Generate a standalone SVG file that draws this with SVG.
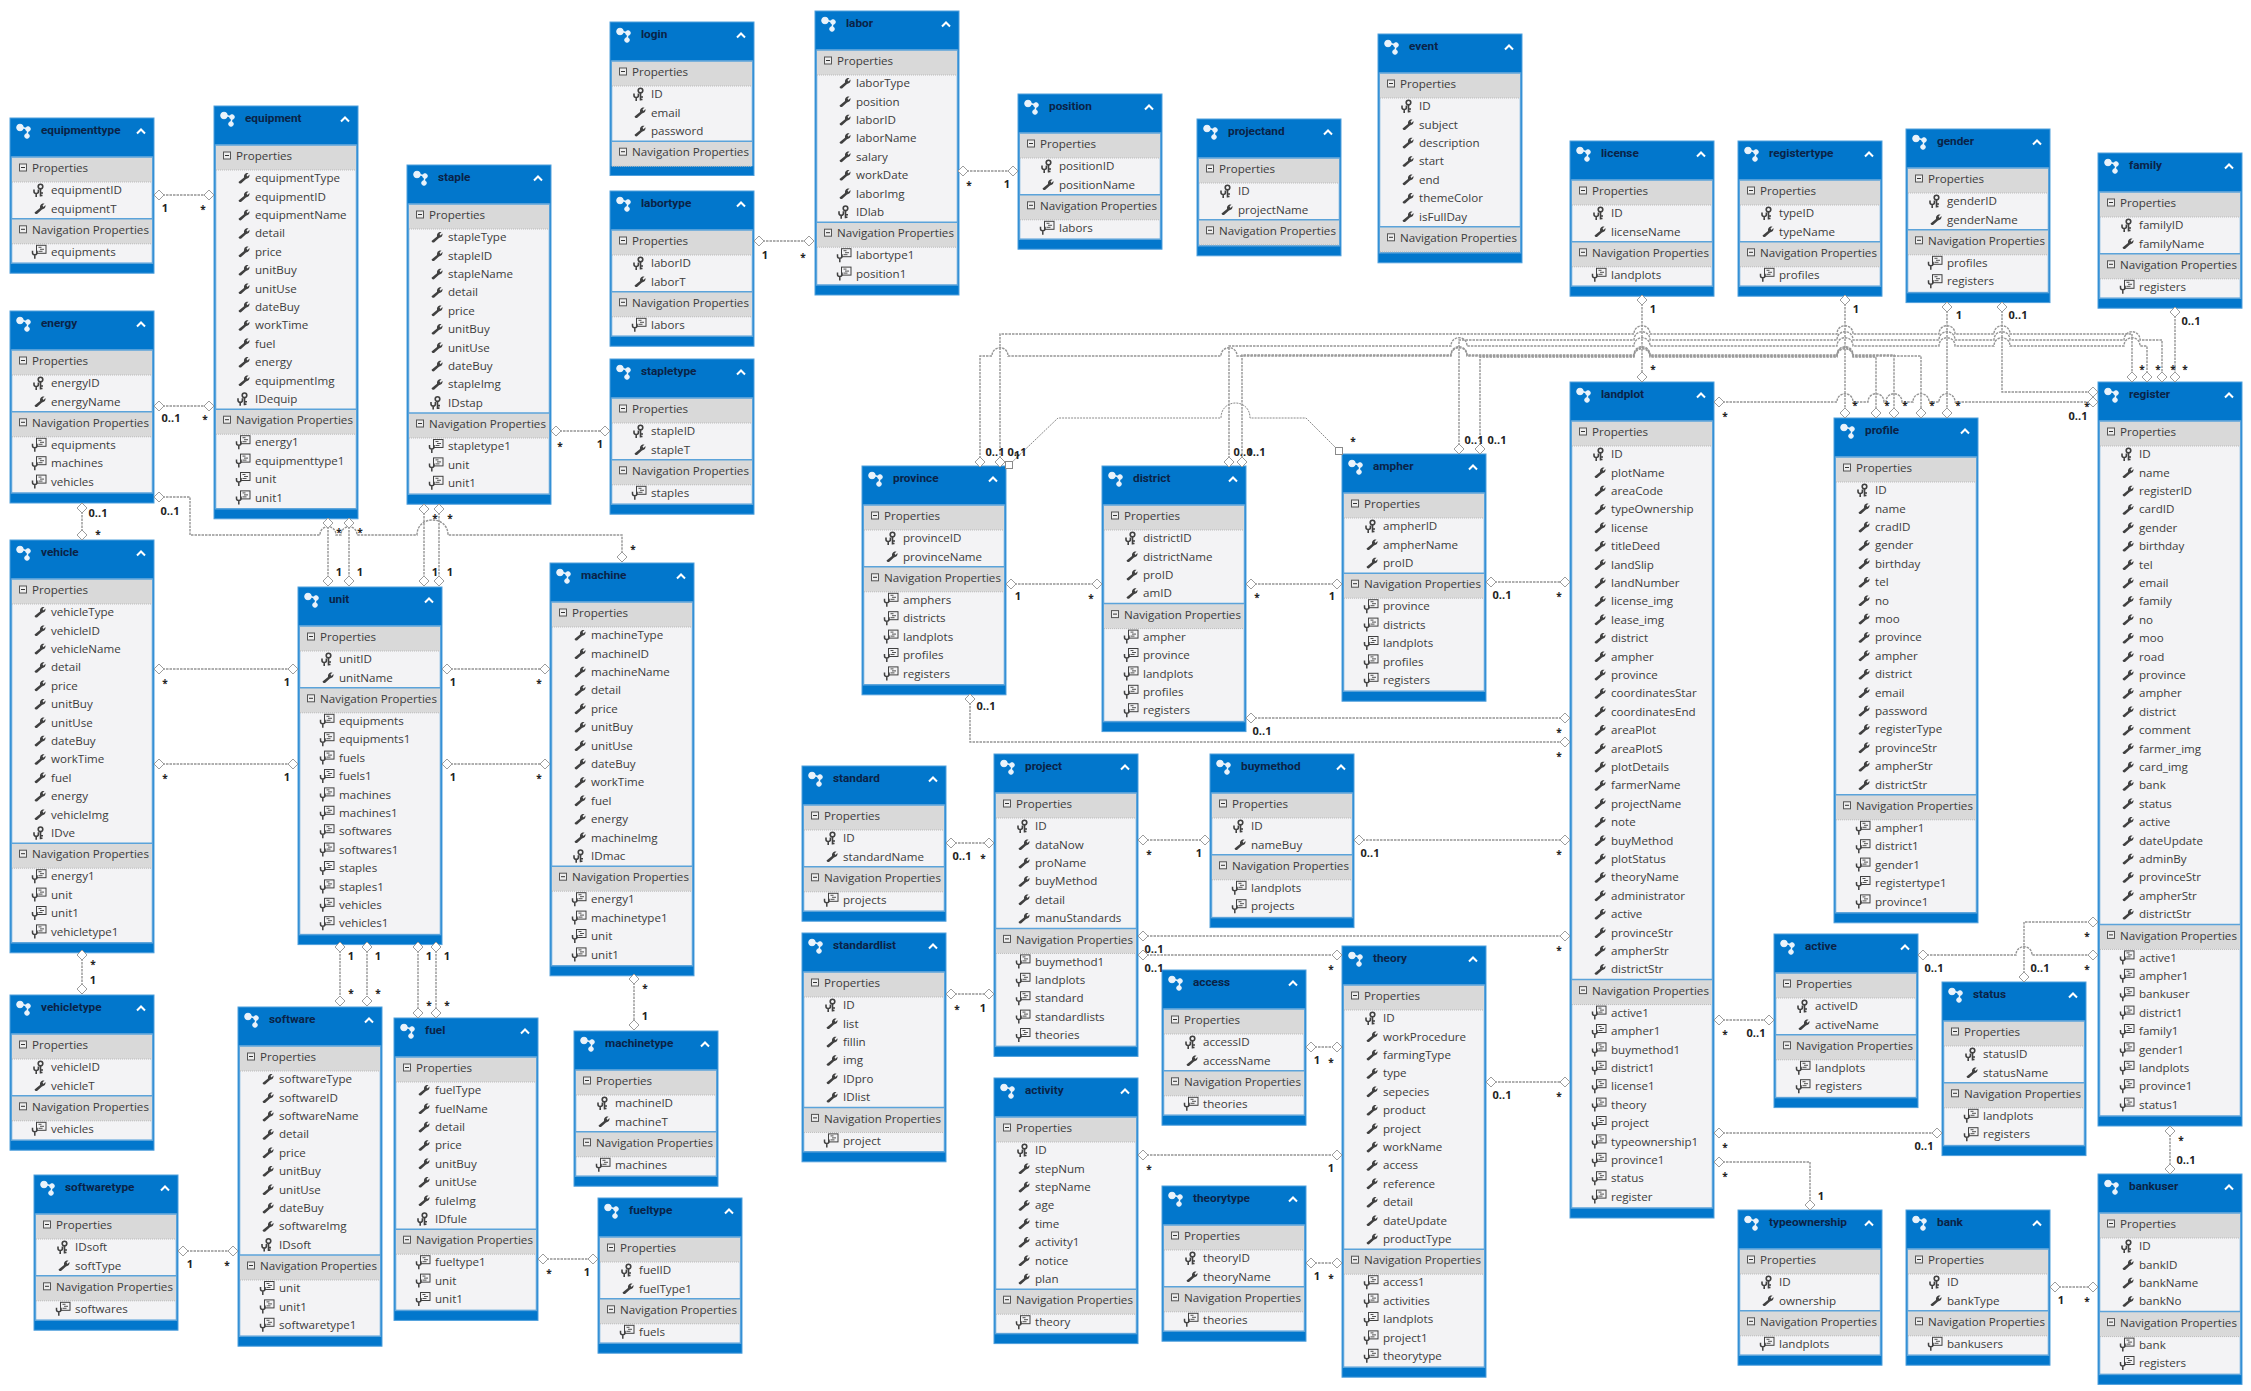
<svg xmlns="http://www.w3.org/2000/svg" width="2251" height="1391" viewBox="0 0 2251 1391">
<style>
text{font-family:"Open Sans","Noto Sans","Liberation Sans",sans-serif;font-size:11.6px;fill:#3c3c3c}
#nodes text{transform:translateY(-.8px)}
#nodes .t{transform:none;font-family:Roboto,"Open Sans",sans-serif;font-weight:700;fill:#0a2347;font-size:11.8px}
.a{font-weight:700;fill:#222;font-size:11px;text-anchor:middle}
.x{font-weight:700;fill:#222;font-size:10px;text-anchor:middle}
.o{fill:#0277cc;stroke:#4f9fdc;stroke-width:1}
.b{fill:#f3f3f5;stroke:#5ba3da;stroke-width:1.5}
.c{fill:none;stroke:#959595;stroke-width:1.4;stroke-dasharray:2.5 1;marker-start:url(#d);marker-end:url(#d)}
.s{fill:none;stroke:#8a8a8a;stroke-width:1;stroke-dasharray:2 1;marker-start:url(#q);marker-end:url(#q)}
</style>
<defs>
<marker id="d" markerUnits="userSpaceOnUse" markerWidth="12" markerHeight="12" refX="6" refY="6" orient="0"><path d="M6 1L11 6L6 11L1 6Z" fill="#fff" stroke="#9c9c9c"/></marker>
<marker id="q" markerUnits="userSpaceOnUse" markerWidth="12" markerHeight="12" refX="6" refY="6" orient="0"><rect x="2.500" y="2.500" width="7" height="7" fill="#fff" stroke="#8a8a8a"/></marker>
<g id="w"><path d="M24.5-1L30-5.5Q29.5-9 32.5-10L34.5-10L32.5-8L33.5-6.5L35.5-8.5Q36-5 32-4L27 .5Q25 1 24.5-1Z" fill="#404040"/></g>
<g id="k" fill="none" stroke="#404040" stroke-width="1.6"><circle cx="30.5" cy="-8.5" r="2.3"/><path d="M30.5-6.2V1.5M30.5-2h2.5M30.5 .5h2M24-5.5v2q0 2 2.2 2v3.500M28.400-5.500v2q0 2-2.200 2"/></g>
<g id="v" fill="none" stroke="#404040"><rect x="26.500" y="-11.500" width="9.500" height="8" fill="#f3f3f5"/><path d="M28.500-9.500h3M30-7.500h4M28.500-5.500h4" stroke-width=".9"/><path d="M22.500-6v2q0 2 2.300 2v4M27-6v2q0 2-2.200 2" stroke-width="1.500"/></g>
<g id="s"><rect x="2" y="39" width="140" height="25" fill="#d9d9d9"/><path d="M2 39H142" stroke="#5ba3da" stroke-width="1.500"/><path d="M2 64H142" stroke="#bbb" stroke-dasharray="1 1"/><rect x="9.500" y="46" width="7" height="7" fill="#eee" stroke="#555"/><path d="M11 49.500h4" stroke="#333"/></g>
<g id="h"><g fill="#eaf3fb" stroke="#eaf3fb"><path d="M10 9L18 11M18 11L17 18" stroke-width="1.500"/><circle cx="10" cy="9.500" r="3.300"/><circle cx="18" cy="11" r="2.300"/><circle cx="17" cy="18" r="2.300"/></g><path d="M127 15.500L131 11.500L135 15.500" fill="none" stroke="#fff" stroke-width="2"/><use href="#s"/></g>
</defs>
<g id="nodes">
<g id="equipmenttype" transform="translate(10,118)"><rect class="o" width="144" height="155.200"/><rect class="b" x="1.500" y="39" width="141" height="106.200"/><use href="#h"/><text class="t" x="31" y="16">equipmenttype</text><text x="22" y="55">Properties</text><use href="#k" y="77"/><text x="41" y="77">equipmentID</text><use href="#w" y="95.400"/><text x="41" y="95.400">equipmentT</text><g transform="translate(0,61.800)"><use href="#s"/><text x="22" y="55">Navigation Properties</text><use href="#v" y="77"/><text x="41" y="77">equipments</text></g></g>
<g id="equipment" transform="translate(214,106)"><rect class="o" width="144" height="412.800"/><rect class="b" x="1.500" y="39" width="141" height="363.800"/><use href="#h"/><text class="t" x="31" y="16">equipment</text><text x="22" y="55">Properties</text>
<use href="#w" y="77"/><text x="41" y="77">equipmentType</text><use href="#w" y="95.400"/><text x="41" y="95.400">equipmentID</text><use href="#w" y="113.800"/><text x="41" y="113.800">equipmentName</text><use href="#w" y="132.200"/><text x="41" y="132.200">detail</text><use href="#w" y="150.600"/><text x="41" y="150.600">price</text><use href="#w" y="169"/><text x="41" y="169">unitBuy</text><use href="#w" y="187.400"/><text x="41" y="187.400">unitUse</text><use href="#w" y="205.800"/><text x="41" y="205.800">dateBuy</text><use href="#w" y="224.200"/><text x="41" y="224.200">workTime</text><use href="#w" y="242.600"/><text x="41" y="242.600">fuel</text><use href="#w" y="261"/><text x="41" y="261">energy</text><use href="#w" y="279.400"/><text x="41" y="279.400">equipmentImg</text><use href="#k" y="297.800"/><text x="41" y="297.800">IDequip</text>
<g transform="translate(0,264.200)"><use href="#s"/><text x="22" y="55">Navigation Properties</text><use href="#v" y="77"/><text x="41" y="77">energy1</text><use href="#v" y="95.400"/><text x="41" y="95.400">equipmenttype1</text><use href="#v" y="113.800"/><text x="41" y="113.800">unit</text><use href="#v" y="132.200"/><text x="41" y="132.200">unit1</text></g></g>
<g id="energy" transform="translate(10,311)"><rect class="o" width="144" height="192"/><rect class="b" x="1.500" y="39" width="141" height="143"/><use href="#h"/><text class="t" x="31" y="16">energy</text><text x="22" y="55">Properties</text><use href="#k" y="77"/><text x="41" y="77">energyID</text><use href="#w" y="95.400"/><text x="41" y="95.400">energyName</text><g transform="translate(0,61.800)"><use href="#s"/><text x="22" y="55">Navigation Properties</text><use href="#v" y="77"/><text x="41" y="77">equipments</text><use href="#v" y="95.400"/><text x="41" y="95.400">machines</text><use href="#v" y="113.800"/><text x="41" y="113.800">vehicles</text></g></g>
<g id="vehicle" transform="translate(10,540)"><rect class="o" width="144" height="412.800"/><rect class="b" x="1.500" y="39" width="141" height="363.800"/><use href="#h"/><text class="t" x="31" y="16">vehicle</text><text x="22" y="55">Properties</text>
<use href="#w" y="77"/><text x="41" y="77">vehicleType</text><use href="#w" y="95.400"/><text x="41" y="95.400">vehicleID</text><use href="#w" y="113.800"/><text x="41" y="113.800">vehicleName</text><use href="#w" y="132.200"/><text x="41" y="132.200">detail</text><use href="#w" y="150.600"/><text x="41" y="150.600">price</text><use href="#w" y="169"/><text x="41" y="169">unitBuy</text><use href="#w" y="187.400"/><text x="41" y="187.400">unitUse</text><use href="#w" y="205.800"/><text x="41" y="205.800">dateBuy</text><use href="#w" y="224.200"/><text x="41" y="224.200">workTime</text><use href="#w" y="242.600"/><text x="41" y="242.600">fuel</text><use href="#w" y="261"/><text x="41" y="261">energy</text><use href="#w" y="279.400"/><text x="41" y="279.400">vehicleImg</text><use href="#k" y="297.800"/><text x="41" y="297.800">IDve</text>
<g transform="translate(0,264.200)"><use href="#s"/><text x="22" y="55">Navigation Properties</text><use href="#v" y="77"/><text x="41" y="77">energy1</text><use href="#v" y="95.400"/><text x="41" y="95.400">unit</text><use href="#v" y="113.800"/><text x="41" y="113.800">unit1</text><use href="#v" y="132.200"/><text x="41" y="132.200">vehicletype1</text></g></g>
<g id="vehicletype" transform="translate(10,995)"><rect class="o" width="144" height="155.200"/><rect class="b" x="1.500" y="39" width="141" height="106.200"/><use href="#h"/><text class="t" x="31" y="16">vehicletype</text><text x="22" y="55">Properties</text><use href="#k" y="77"/><text x="41" y="77">vehicleID</text><use href="#w" y="95.400"/><text x="41" y="95.400">vehicleT</text><g transform="translate(0,61.800)"><use href="#s"/><text x="22" y="55">Navigation Properties</text><use href="#v" y="77"/><text x="41" y="77">vehicles</text></g></g>
<g id="softwaretype" transform="translate(34,1175)"><rect class="o" width="144" height="155.200"/><rect class="b" x="1.500" y="39" width="141" height="106.200"/><use href="#h"/><text class="t" x="31" y="16">softwaretype</text><text x="22" y="55">Properties</text><use href="#k" y="77"/><text x="41" y="77">IDsoft</text><use href="#w" y="95.400"/><text x="41" y="95.400">softType</text><g transform="translate(0,61.800)"><use href="#s"/><text x="22" y="55">Navigation Properties</text><use href="#v" y="77"/><text x="41" y="77">softwares</text></g></g>
<g id="software" transform="translate(238,1007)"><rect class="o" width="144" height="339.200"/><rect class="b" x="1.500" y="39" width="141" height="290.200"/><use href="#h"/><text class="t" x="31" y="16">software</text><text x="22" y="55">Properties</text>
<use href="#w" y="77"/><text x="41" y="77">softwareType</text><use href="#w" y="95.400"/><text x="41" y="95.400">softwareID</text><use href="#w" y="113.800"/><text x="41" y="113.800">softwareName</text><use href="#w" y="132.200"/><text x="41" y="132.200">detail</text><use href="#w" y="150.600"/><text x="41" y="150.600">price</text><use href="#w" y="169"/><text x="41" y="169">unitBuy</text><use href="#w" y="187.400"/><text x="41" y="187.400">unitUse</text><use href="#w" y="205.800"/><text x="41" y="205.800">dateBuy</text><use href="#w" y="224.200"/><text x="41" y="224.200">softwareImg</text><use href="#k" y="242.600"/><text x="41" y="242.600">IDsoft</text>
<g transform="translate(0,209)"><use href="#s"/><text x="22" y="55">Navigation Properties</text><use href="#v" y="77"/><text x="41" y="77">unit</text><use href="#v" y="95.400"/><text x="41" y="95.400">unit1</text><use href="#v" y="113.800"/><text x="41" y="113.800">softwaretype1</text></g></g>
<g id="fuel" transform="translate(394,1018)"><rect class="o" width="144" height="302.400"/><rect class="b" x="1.500" y="39" width="141" height="253.400"/><use href="#h"/><text class="t" x="31" y="16">fuel</text><text x="22" y="55">Properties</text>
<use href="#w" y="77"/><text x="41" y="77">fuelType</text><use href="#w" y="95.400"/><text x="41" y="95.400">fuelName</text><use href="#w" y="113.800"/><text x="41" y="113.800">detail</text><use href="#w" y="132.200"/><text x="41" y="132.200">price</text><use href="#w" y="150.600"/><text x="41" y="150.600">unitBuy</text><use href="#w" y="169"/><text x="41" y="169">unitUse</text><use href="#w" y="187.400"/><text x="41" y="187.400">fuleImg</text><use href="#k" y="205.800"/><text x="41" y="205.800">IDfule</text>
<g transform="translate(0,172.200)"><use href="#s"/><text x="22" y="55">Navigation Properties</text><use href="#v" y="77"/><text x="41" y="77">fueltype1</text><use href="#v" y="95.400"/><text x="41" y="95.400">unit</text><use href="#v" y="113.800"/><text x="41" y="113.800">unit1</text></g></g>
<g id="fueltype" transform="translate(598,1198)"><rect class="o" width="144" height="155.200"/><rect class="b" x="1.500" y="39" width="141" height="106.200"/><use href="#h"/><text class="t" x="31" y="16">fueltype</text><text x="22" y="55">Properties</text><use href="#k" y="77"/><text x="41" y="77">fuelID</text><use href="#w" y="95.400"/><text x="41" y="95.400">fuelType1</text><g transform="translate(0,61.800)"><use href="#s"/><text x="22" y="55">Navigation Properties</text><use href="#v" y="77"/><text x="41" y="77">fuels</text></g></g>
<g id="machinetype" transform="translate(574,1031)"><rect class="o" width="144" height="155.200"/><rect class="b" x="1.500" y="39" width="141" height="106.200"/><use href="#h"/><text class="t" x="31" y="16">machinetype</text><text x="22" y="55">Properties</text><use href="#k" y="77"/><text x="41" y="77">machineID</text><use href="#w" y="95.400"/><text x="41" y="95.400">machineT</text><g transform="translate(0,61.800)"><use href="#s"/><text x="22" y="55">Navigation Properties</text><use href="#v" y="77"/><text x="41" y="77">machines</text></g></g>
<g id="machine" transform="translate(550,563)"><rect class="o" width="144" height="412.800"/><rect class="b" x="1.500" y="39" width="141" height="363.800"/><use href="#h"/><text class="t" x="31" y="16">machine</text><text x="22" y="55">Properties</text>
<use href="#w" y="77"/><text x="41" y="77">machineType</text><use href="#w" y="95.400"/><text x="41" y="95.400">machineID</text><use href="#w" y="113.800"/><text x="41" y="113.800">machineName</text><use href="#w" y="132.200"/><text x="41" y="132.200">detail</text><use href="#w" y="150.600"/><text x="41" y="150.600">price</text><use href="#w" y="169"/><text x="41" y="169">unitBuy</text><use href="#w" y="187.400"/><text x="41" y="187.400">unitUse</text><use href="#w" y="205.800"/><text x="41" y="205.800">dateBuy</text><use href="#w" y="224.200"/><text x="41" y="224.200">workTime</text><use href="#w" y="242.600"/><text x="41" y="242.600">fuel</text><use href="#w" y="261"/><text x="41" y="261">energy</text><use href="#w" y="279.400"/><text x="41" y="279.400">machineImg</text><use href="#k" y="297.800"/><text x="41" y="297.800">IDmac</text>
<g transform="translate(0,264.200)"><use href="#s"/><text x="22" y="55">Navigation Properties</text><use href="#v" y="77"/><text x="41" y="77">energy1</text><use href="#v" y="95.400"/><text x="41" y="95.400">machinetype1</text><use href="#v" y="113.800"/><text x="41" y="113.800">unit</text><use href="#v" y="132.200"/><text x="41" y="132.200">unit1</text></g></g>
<g id="unit" transform="translate(298,587)"><rect class="o" width="144" height="357.600"/><rect class="b" x="1.500" y="39" width="141" height="308.600"/><use href="#h"/><text class="t" x="31" y="16">unit</text><text x="22" y="55">Properties</text><use href="#k" y="77"/><text x="41" y="77">unitID</text><use href="#w" y="95.400"/><text x="41" y="95.400">unitName</text>
<g transform="translate(0,61.800)"><use href="#s"/><text x="22" y="55">Navigation Properties</text><use href="#v" y="77"/><text x="41" y="77">equipments</text><use href="#v" y="95.400"/><text x="41" y="95.400">equipments1</text><use href="#v" y="113.800"/><text x="41" y="113.800">fuels</text><use href="#v" y="132.200"/><text x="41" y="132.200">fuels1</text><use href="#v" y="150.600"/><text x="41" y="150.600">machines</text><use href="#v" y="169"/><text x="41" y="169">machines1</text><use href="#v" y="187.400"/><text x="41" y="187.400">softwares</text><use href="#v" y="205.800"/><text x="41" y="205.800">softwares1</text><use href="#v" y="224.200"/><text x="41" y="224.200">staples</text><use href="#v" y="242.600"/><text x="41" y="242.600">staples1</text><use href="#v" y="261"/><text x="41" y="261">vehicles</text><use href="#v" y="279.400"/><text x="41" y="279.400">vehicles1</text></g></g>
<g id="staple" transform="translate(407,165)"><rect class="o" width="144" height="339.200"/><rect class="b" x="1.500" y="39" width="141" height="290.200"/><use href="#h"/><text class="t" x="31" y="16">staple</text><text x="22" y="55">Properties</text>
<use href="#w" y="77"/><text x="41" y="77">stapleType</text><use href="#w" y="95.400"/><text x="41" y="95.400">stapleID</text><use href="#w" y="113.800"/><text x="41" y="113.800">stapleName</text><use href="#w" y="132.200"/><text x="41" y="132.200">detail</text><use href="#w" y="150.600"/><text x="41" y="150.600">price</text><use href="#w" y="169"/><text x="41" y="169">unitBuy</text><use href="#w" y="187.400"/><text x="41" y="187.400">unitUse</text><use href="#w" y="205.800"/><text x="41" y="205.800">dateBuy</text><use href="#w" y="224.200"/><text x="41" y="224.200">stapleImg</text><use href="#k" y="242.600"/><text x="41" y="242.600">IDstap</text>
<g transform="translate(0,209)"><use href="#s"/><text x="22" y="55">Navigation Properties</text><use href="#v" y="77"/><text x="41" y="77">stapletype1</text><use href="#v" y="95.400"/><text x="41" y="95.400">unit</text><use href="#v" y="113.800"/><text x="41" y="113.800">unit1</text></g></g>
<g id="login" transform="translate(610,22)"><rect class="o" width="144" height="153.500"/><rect class="b" x="1.500" y="39" width="141" height="104.500"/><use href="#h"/><text class="t" x="31" y="16">login</text><text x="22" y="55">Properties</text><use href="#k" y="77"/><text x="41" y="77">ID</text><use href="#w" y="95.400"/><text x="41" y="95.400">email</text><use href="#w" y="113.800"/><text x="41" y="113.800">password</text><g transform="translate(0,80.200)"><use href="#s"/><text x="22" y="55">Navigation Properties</text></g></g>
<g id="labor" transform="translate(815,11)"><rect class="o" width="144" height="284"/><rect class="b" x="1.500" y="39" width="141" height="235"/><use href="#h"/><text class="t" x="31" y="16">labor</text><text x="22" y="55">Properties</text>
<use href="#w" y="77"/><text x="41" y="77">laborType</text><use href="#w" y="95.400"/><text x="41" y="95.400">position</text><use href="#w" y="113.800"/><text x="41" y="113.800">laborID</text><use href="#w" y="132.200"/><text x="41" y="132.200">laborName</text><use href="#w" y="150.600"/><text x="41" y="150.600">salary</text><use href="#w" y="169"/><text x="41" y="169">workDate</text><use href="#w" y="187.400"/><text x="41" y="187.400">laborImg</text><use href="#k" y="205.800"/><text x="41" y="205.800">IDlab</text>
<g transform="translate(0,172.200)"><use href="#s"/><text x="22" y="55">Navigation Properties</text><use href="#v" y="77"/><text x="41" y="77">labortype1</text><use href="#v" y="95.400"/><text x="41" y="95.400">position1</text></g></g>
<g id="labortype" transform="translate(610,191)"><rect class="o" width="144" height="155.200"/><rect class="b" x="1.500" y="39" width="141" height="106.200"/><use href="#h"/><text class="t" x="31" y="16">labortype</text><text x="22" y="55">Properties</text><use href="#k" y="77"/><text x="41" y="77">laborID</text><use href="#w" y="95.400"/><text x="41" y="95.400">laborT</text><g transform="translate(0,61.800)"><use href="#s"/><text x="22" y="55">Navigation Properties</text><use href="#v" y="77"/><text x="41" y="77">labors</text></g></g>
<g id="stapletype" transform="translate(610,359)"><rect class="o" width="144" height="155.200"/><rect class="b" x="1.500" y="39" width="141" height="106.200"/><use href="#h"/><text class="t" x="31" y="16">stapletype</text><text x="22" y="55">Properties</text><use href="#k" y="77"/><text x="41" y="77">stapleID</text><use href="#w" y="95.400"/><text x="41" y="95.400">stapleT</text><g transform="translate(0,61.800)"><use href="#s"/><text x="22" y="55">Navigation Properties</text><use href="#v" y="77"/><text x="41" y="77">staples</text></g></g>
<g id="position" transform="translate(1018,94)"><rect class="o" width="144" height="155.200"/><rect class="b" x="1.500" y="39" width="141" height="106.200"/><use href="#h"/><text class="t" x="31" y="16">position</text><text x="22" y="55">Properties</text><use href="#k" y="77"/><text x="41" y="77">positionID</text><use href="#w" y="95.400"/><text x="41" y="95.400">positionName</text><g transform="translate(0,61.800)"><use href="#s"/><text x="22" y="55">Navigation Properties</text><use href="#v" y="77"/><text x="41" y="77">labors</text></g></g>
<g id="projectand" transform="translate(1197,119)"><rect class="o" width="144" height="136.800"/><rect class="b" x="1.500" y="39" width="141" height="87.800"/><use href="#h"/><text class="t" x="31" y="16">projectand</text><text x="22" y="55">Properties</text><use href="#k" y="77"/><text x="41" y="77">ID</text><use href="#w" y="95.400"/><text x="41" y="95.400">projectName</text><g transform="translate(0,61.800)"><use href="#s"/><text x="22" y="55">Navigation Properties</text></g></g>
<g id="event" transform="translate(1378,34)"><rect class="o" width="144" height="228.800"/><rect class="b" x="1.500" y="39" width="141" height="179.800"/><use href="#h"/><text class="t" x="31" y="16">event</text><text x="22" y="55">Properties</text><use href="#k" y="77"/><text x="41" y="77">ID</text><use href="#w" y="95.400"/><text x="41" y="95.400">subject</text><use href="#w" y="113.800"/><text x="41" y="113.800">description</text><use href="#w" y="132.200"/><text x="41" y="132.200">start</text><use href="#w" y="150.600"/><text x="41" y="150.600">end</text><use href="#w" y="169"/><text x="41" y="169">themeColor</text><use href="#w" y="187.400"/><text x="41" y="187.400">isFullDay</text><g transform="translate(0,153.800)"><use href="#s"/><text x="22" y="55">Navigation Properties</text></g></g>
<g id="license" transform="translate(1570,141)"><rect class="o" width="144" height="155.200"/><rect class="b" x="1.500" y="39" width="141" height="106.200"/><use href="#h"/><text class="t" x="31" y="16">license</text><text x="22" y="55">Properties</text><use href="#k" y="77"/><text x="41" y="77">ID</text><use href="#w" y="95.400"/><text x="41" y="95.400">licenseName</text><g transform="translate(0,61.800)"><use href="#s"/><text x="22" y="55">Navigation Properties</text><use href="#v" y="77"/><text x="41" y="77">landplots</text></g></g>
<g id="registertype" transform="translate(1738,141)"><rect class="o" width="144" height="155.200"/><rect class="b" x="1.500" y="39" width="141" height="106.200"/><use href="#h"/><text class="t" x="31" y="16">registertype</text><text x="22" y="55">Properties</text><use href="#k" y="77"/><text x="41" y="77">typeID</text><use href="#w" y="95.400"/><text x="41" y="95.400">typeName</text><g transform="translate(0,61.800)"><use href="#s"/><text x="22" y="55">Navigation Properties</text><use href="#v" y="77"/><text x="41" y="77">profiles</text></g></g>
<g id="gender" transform="translate(1906,129)"><rect class="o" width="144" height="173.600"/><rect class="b" x="1.500" y="39" width="141" height="124.600"/><use href="#h"/><text class="t" x="31" y="16">gender</text><text x="22" y="55">Properties</text><use href="#k" y="77"/><text x="41" y="77">genderID</text><use href="#w" y="95.400"/><text x="41" y="95.400">genderName</text><g transform="translate(0,61.800)"><use href="#s"/><text x="22" y="55">Navigation Properties</text><use href="#v" y="77"/><text x="41" y="77">profiles</text><use href="#v" y="95.400"/><text x="41" y="95.400">registers</text></g></g>
<g id="family" transform="translate(2098,153)"><rect class="o" width="144" height="155.200"/><rect class="b" x="1.500" y="39" width="141" height="106.200"/><use href="#h"/><text class="t" x="31" y="16">family</text><text x="22" y="55">Properties</text><use href="#k" y="77"/><text x="41" y="77">familyID</text><use href="#w" y="95.400"/><text x="41" y="95.400">familyName</text><g transform="translate(0,61.800)"><use href="#s"/><text x="22" y="55">Navigation Properties</text><use href="#v" y="77"/><text x="41" y="77">registers</text></g></g>
<g id="province" transform="translate(862,466)"><rect class="o" width="144" height="228.800"/><rect class="b" x="1.500" y="39" width="141" height="179.800"/><use href="#h"/><text class="t" x="31" y="16">province</text><text x="22" y="55">Properties</text><use href="#k" y="77"/><text x="41" y="77">provinceID</text><use href="#w" y="95.400"/><text x="41" y="95.400">provinceName</text><g transform="translate(0,61.800)"><use href="#s"/><text x="22" y="55">Navigation Properties</text><use href="#v" y="77"/><text x="41" y="77">amphers</text><use href="#v" y="95.400"/><text x="41" y="95.400">districts</text><use href="#v" y="113.800"/><text x="41" y="113.800">landplots</text><use href="#v" y="132.200"/><text x="41" y="132.200">profiles</text><use href="#v" y="150.600"/><text x="41" y="150.600">registers</text></g></g>
<g id="district" transform="translate(1102,466)"><rect class="o" width="144" height="265.600"/><rect class="b" x="1.500" y="39" width="141" height="216.600"/><use href="#h"/><text class="t" x="31" y="16">district</text><text x="22" y="55">Properties</text><use href="#k" y="77"/><text x="41" y="77">districtID</text><use href="#w" y="95.400"/><text x="41" y="95.400">districtName</text><use href="#w" y="113.800"/><text x="41" y="113.800">proID</text><use href="#w" y="132.200"/><text x="41" y="132.200">amID</text><g transform="translate(0,98.600)"><use href="#s"/><text x="22" y="55">Navigation Properties</text><use href="#v" y="77"/><text x="41" y="77">ampher</text><use href="#v" y="95.400"/><text x="41" y="95.400">province</text><use href="#v" y="113.800"/><text x="41" y="113.800">landplots</text><use href="#v" y="132.200"/><text x="41" y="132.200">profiles</text><use href="#v" y="150.600"/><text x="41" y="150.600">registers</text></g></g>
<g id="ampher" transform="translate(1342,454)"><rect class="o" width="144" height="247.200"/><rect class="b" x="1.500" y="39" width="141" height="198.200"/><use href="#h"/><text class="t" x="31" y="16">ampher</text><text x="22" y="55">Properties</text><use href="#k" y="77"/><text x="41" y="77">ampherID</text><use href="#w" y="95.400"/><text x="41" y="95.400">ampherName</text><use href="#w" y="113.800"/><text x="41" y="113.800">proID</text><g transform="translate(0,80.200)"><use href="#s"/><text x="22" y="55">Navigation Properties</text><use href="#v" y="77"/><text x="41" y="77">province</text><use href="#v" y="95.400"/><text x="41" y="95.400">districts</text><use href="#v" y="113.800"/><text x="41" y="113.800">landplots</text><use href="#v" y="132.200"/><text x="41" y="132.200">profiles</text><use href="#v" y="150.600"/><text x="41" y="150.600">registers</text></g></g>
<g id="landplot" transform="translate(1570,382)"><rect class="o" width="144" height="836"/><rect class="b" x="1.500" y="39" width="141" height="787"/><use href="#h"/><text class="t" x="31" y="16">landplot</text><text x="22" y="55">Properties</text><use href="#k" y="77"/><text x="41" y="77">ID</text><use href="#w" y="95.400"/><text x="41" y="95.400">plotName</text><use href="#w" y="113.800"/><text x="41" y="113.800">areaCode</text><use href="#w" y="132.200"/><text x="41" y="132.200">typeOwnership</text><use href="#w" y="150.600"/><text x="41" y="150.600">license</text><use href="#w" y="169"/><text x="41" y="169">titleDeed</text><use href="#w" y="187.400"/><text x="41" y="187.400">landSlip</text><use href="#w" y="205.800"/><text x="41" y="205.800">landNumber</text><use href="#w" y="224.200"/><text x="41" y="224.200">license_img</text><use href="#w" y="242.600"/><text x="41" y="242.600">lease_img</text><use href="#w" y="261"/><text x="41" y="261">district</text><use href="#w" y="279.400"/><text x="41" y="279.400">ampher</text><use href="#w" y="297.800"/><text x="41" y="297.800">province</text><use href="#w" y="316.200"/><text x="41" y="316.200">coordinatesStar</text><use href="#w" y="334.600"/><text x="41" y="334.600">coordinatesEnd</text><use href="#w" y="353"/><text x="41" y="353">areaPlot</text><use href="#w" y="371.400"/><text x="41" y="371.400">areaPlotS</text><use href="#w" y="389.800"/><text x="41" y="389.800">plotDetails</text><use href="#w" y="408.200"/><text x="41" y="408.200">farmerName</text><use href="#w" y="426.600"/><text x="41" y="426.600">projectName</text><use href="#w" y="445"/><text x="41" y="445">note</text><use href="#w" y="463.400"/><text x="41" y="463.400">buyMethod</text><use href="#w" y="481.800"/><text x="41" y="481.800">plotStatus</text><use href="#w" y="500.200"/><text x="41" y="500.200">theoryName</text><use href="#w" y="518.600"/><text x="41" y="518.600">administrator</text><use href="#w" y="537"/><text x="41" y="537">active</text><use href="#w" y="555.400"/><text x="41" y="555.400">provinceStr</text><use href="#w" y="573.800"/><text x="41" y="573.800">ampherStr</text><use href="#w" y="592.200"/><text x="41" y="592.200">districtStr</text>
<g transform="translate(0,558.600)"><use href="#s"/><text x="22" y="55">Navigation Properties</text><use href="#v" y="77"/><text x="41" y="77">active1</text><use href="#v" y="95.400"/><text x="41" y="95.400">ampher1</text><use href="#v" y="113.800"/><text x="41" y="113.800">buymethod1</text><use href="#v" y="132.200"/><text x="41" y="132.200">district1</text><use href="#v" y="150.600"/><text x="41" y="150.600">license1</text><use href="#v" y="169"/><text x="41" y="169">theory</text><use href="#v" y="187.400"/><text x="41" y="187.400">project</text><use href="#v" y="205.800"/><text x="41" y="205.800">typeownership1</text><use href="#v" y="224.200"/><text x="41" y="224.200">province1</text><use href="#v" y="242.600"/><text x="41" y="242.600">status</text><use href="#v" y="261"/><text x="41" y="261">register</text></g></g>
<g id="profile" transform="translate(1834,418)"><rect class="o" width="144" height="504.800"/><rect class="b" x="1.500" y="39" width="141" height="455.800"/><use href="#h"/><text class="t" x="31" y="16">profile</text><text x="22" y="55">Properties</text><use href="#k" y="77"/><text x="41" y="77">ID</text><use href="#w" y="95.400"/><text x="41" y="95.400">name</text><use href="#w" y="113.800"/><text x="41" y="113.800">cradID</text><use href="#w" y="132.200"/><text x="41" y="132.200">gender</text><use href="#w" y="150.600"/><text x="41" y="150.600">birthday</text><use href="#w" y="169"/><text x="41" y="169">tel</text><use href="#w" y="187.400"/><text x="41" y="187.400">no</text><use href="#w" y="205.800"/><text x="41" y="205.800">moo</text><use href="#w" y="224.200"/><text x="41" y="224.200">province</text><use href="#w" y="242.600"/><text x="41" y="242.600">ampher</text><use href="#w" y="261"/><text x="41" y="261">district</text><use href="#w" y="279.400"/><text x="41" y="279.400">email</text><use href="#w" y="297.800"/><text x="41" y="297.800">password</text><use href="#w" y="316.200"/><text x="41" y="316.200">registerType</text><use href="#w" y="334.600"/><text x="41" y="334.600">provinceStr</text><use href="#w" y="353"/><text x="41" y="353">ampherStr</text><use href="#w" y="371.400"/><text x="41" y="371.400">districtStr</text>
<g transform="translate(0,337.800)"><use href="#s"/><text x="22" y="55">Navigation Properties</text><use href="#v" y="77"/><text x="41" y="77">ampher1</text><use href="#v" y="95.400"/><text x="41" y="95.400">district1</text><use href="#v" y="113.800"/><text x="41" y="113.800">gender1</text><use href="#v" y="132.200"/><text x="41" y="132.200">registertype1</text><use href="#v" y="150.600"/><text x="41" y="150.600">province1</text></g></g>
<g id="register" transform="translate(2098,382)"><rect class="o" width="144" height="744"/><rect class="b" x="1.500" y="39" width="141" height="695"/><use href="#h"/><text class="t" x="31" y="16">register</text><text x="22" y="55">Properties</text><use href="#k" y="77"/><text x="41" y="77">ID</text><use href="#w" y="95.400"/><text x="41" y="95.400">name</text><use href="#w" y="113.800"/><text x="41" y="113.800">registerID</text><use href="#w" y="132.200"/><text x="41" y="132.200">cardID</text><use href="#w" y="150.600"/><text x="41" y="150.600">gender</text><use href="#w" y="169"/><text x="41" y="169">birthday</text><use href="#w" y="187.400"/><text x="41" y="187.400">tel</text><use href="#w" y="205.800"/><text x="41" y="205.800">email</text><use href="#w" y="224.200"/><text x="41" y="224.200">family</text><use href="#w" y="242.600"/><text x="41" y="242.600">no</text><use href="#w" y="261"/><text x="41" y="261">moo</text><use href="#w" y="279.400"/><text x="41" y="279.400">road</text><use href="#w" y="297.800"/><text x="41" y="297.800">province</text><use href="#w" y="316.200"/><text x="41" y="316.200">ampher</text><use href="#w" y="334.600"/><text x="41" y="334.600">district</text><use href="#w" y="353"/><text x="41" y="353">comment</text><use href="#w" y="371.400"/><text x="41" y="371.400">farmer_img</text><use href="#w" y="389.800"/><text x="41" y="389.800">card_img</text><use href="#w" y="408.200"/><text x="41" y="408.200">bank</text><use href="#w" y="426.600"/><text x="41" y="426.600">status</text><use href="#w" y="445"/><text x="41" y="445">active</text><use href="#w" y="463.400"/><text x="41" y="463.400">dateUpdate</text><use href="#w" y="481.800"/><text x="41" y="481.800">adminBy</text><use href="#w" y="500.200"/><text x="41" y="500.200">provinceStr</text><use href="#w" y="518.600"/><text x="41" y="518.600">ampherStr</text><use href="#w" y="537"/><text x="41" y="537">districtStr</text>
<g transform="translate(0,503.400)"><use href="#s"/><text x="22" y="55">Navigation Properties</text><use href="#v" y="77"/><text x="41" y="77">active1</text><use href="#v" y="95.400"/><text x="41" y="95.400">ampher1</text><use href="#v" y="113.800"/><text x="41" y="113.800">bankuser</text><use href="#v" y="132.200"/><text x="41" y="132.200">district1</text><use href="#v" y="150.600"/><text x="41" y="150.600">family1</text><use href="#v" y="169"/><text x="41" y="169">gender1</text><use href="#v" y="187.400"/><text x="41" y="187.400">landplots</text><use href="#v" y="205.800"/><text x="41" y="205.800">province1</text><use href="#v" y="224.200"/><text x="41" y="224.200">status1</text></g></g>
<g id="active" transform="translate(1774,934)"><rect class="o" width="144" height="173.600"/><rect class="b" x="1.500" y="39" width="141" height="124.600"/><use href="#h"/><text class="t" x="31" y="16">active</text><text x="22" y="55">Properties</text><use href="#k" y="77"/><text x="41" y="77">activeID</text><use href="#w" y="95.400"/><text x="41" y="95.400">activeName</text><g transform="translate(0,61.800)"><use href="#s"/><text x="22" y="55">Navigation Properties</text><use href="#v" y="77"/><text x="41" y="77">landplots</text><use href="#v" y="95.400"/><text x="41" y="95.400">registers</text></g></g>
<g id="status" transform="translate(1942,982)"><rect class="o" width="144" height="173.600"/><rect class="b" x="1.500" y="39" width="141" height="124.600"/><use href="#h"/><text class="t" x="31" y="16">status</text><text x="22" y="55">Properties</text><use href="#k" y="77"/><text x="41" y="77">statusID</text><use href="#w" y="95.400"/><text x="41" y="95.400">statusName</text><g transform="translate(0,61.800)"><use href="#s"/><text x="22" y="55">Navigation Properties</text><use href="#v" y="77"/><text x="41" y="77">landplots</text><use href="#v" y="95.400"/><text x="41" y="95.400">registers</text></g></g>
<g id="bankuser" transform="translate(2098,1174)"><rect class="o" width="144" height="210.400"/><rect class="b" x="1.500" y="39" width="141" height="161.400"/><use href="#h"/><text class="t" x="31" y="16">bankuser</text><text x="22" y="55">Properties</text><use href="#k" y="77"/><text x="41" y="77">ID</text><use href="#w" y="95.400"/><text x="41" y="95.400">bankID</text><use href="#w" y="113.800"/><text x="41" y="113.800">bankName</text><use href="#w" y="132.200"/><text x="41" y="132.200">bankNo</text><g transform="translate(0,98.600)"><use href="#s"/><text x="22" y="55">Navigation Properties</text><use href="#v" y="77"/><text x="41" y="77">bank</text><use href="#v" y="95.400"/><text x="41" y="95.400">registers</text></g></g>
<g id="bank" transform="translate(1906,1210)"><rect class="o" width="144" height="155.200"/><rect class="b" x="1.500" y="39" width="141" height="106.200"/><use href="#h"/><text class="t" x="31" y="16">bank</text><text x="22" y="55">Properties</text><use href="#k" y="77"/><text x="41" y="77">ID</text><use href="#w" y="95.400"/><text x="41" y="95.400">bankType</text><g transform="translate(0,61.800)"><use href="#s"/><text x="22" y="55">Navigation Properties</text><use href="#v" y="77"/><text x="41" y="77">bankusers</text></g></g>
<g id="typeownership" transform="translate(1738,1210)"><rect class="o" width="144" height="155.200"/><rect class="b" x="1.500" y="39" width="141" height="106.200"/><use href="#h"/><text class="t" x="31" y="16">typeownership</text><text x="22" y="55">Properties</text><use href="#k" y="77"/><text x="41" y="77">ID</text><use href="#w" y="95.400"/><text x="41" y="95.400">ownership</text><g transform="translate(0,61.800)"><use href="#s"/><text x="22" y="55">Navigation Properties</text><use href="#v" y="77"/><text x="41" y="77">landplots</text></g></g>
<g id="theory" transform="translate(1342,946)"><rect class="o" width="144" height="431.200"/><rect class="b" x="1.500" y="39" width="141" height="382.200"/><use href="#h"/><text class="t" x="31" y="16">theory</text><text x="22" y="55">Properties</text><use href="#k" y="77"/><text x="41" y="77">ID</text><use href="#w" y="95.400"/><text x="41" y="95.400">workProcedure</text><use href="#w" y="113.800"/><text x="41" y="113.800">farmingType</text><use href="#w" y="132.200"/><text x="41" y="132.200">type</text><use href="#w" y="150.600"/><text x="41" y="150.600">sepecies</text><use href="#w" y="169"/><text x="41" y="169">product</text><use href="#w" y="187.400"/><text x="41" y="187.400">project</text><use href="#w" y="205.800"/><text x="41" y="205.800">workName</text><use href="#w" y="224.200"/><text x="41" y="224.200">access</text><use href="#w" y="242.600"/><text x="41" y="242.600">reference</text><use href="#w" y="261"/><text x="41" y="261">detail</text><use href="#w" y="279.400"/><text x="41" y="279.400">dateUpdate</text><use href="#w" y="297.800"/><text x="41" y="297.800">productType</text>
<g transform="translate(0,264.200)"><use href="#s"/><text x="22" y="55">Navigation Properties</text><use href="#v" y="77"/><text x="41" y="77">access1</text><use href="#v" y="95.400"/><text x="41" y="95.400">activities</text><use href="#v" y="113.800"/><text x="41" y="113.800">landplots</text><use href="#v" y="132.200"/><text x="41" y="132.200">project1</text><use href="#v" y="150.600"/><text x="41" y="150.600">theorytype</text></g></g>
<g id="project" transform="translate(994,754)"><rect class="o" width="144" height="302.400"/><rect class="b" x="1.500" y="39" width="141" height="253.400"/><use href="#h"/><text class="t" x="31" y="16">project</text><text x="22" y="55">Properties</text><use href="#k" y="77"/><text x="41" y="77">ID</text><use href="#w" y="95.400"/><text x="41" y="95.400">dataNow</text><use href="#w" y="113.800"/><text x="41" y="113.800">proName</text><use href="#w" y="132.200"/><text x="41" y="132.200">buyMethod</text><use href="#w" y="150.600"/><text x="41" y="150.600">detail</text><use href="#w" y="169"/><text x="41" y="169">manuStandards</text><g transform="translate(0,135.400)"><use href="#s"/><text x="22" y="55">Navigation Properties</text><use href="#v" y="77"/><text x="41" y="77">buymethod1</text><use href="#v" y="95.400"/><text x="41" y="95.400">landplots</text><use href="#v" y="113.800"/><text x="41" y="113.800">standard</text><use href="#v" y="132.200"/><text x="41" y="132.200">standardlists</text><use href="#v" y="150.600"/><text x="41" y="150.600">theories</text></g></g>
<g id="buymethod" transform="translate(1210,754)"><rect class="o" width="144" height="173.600"/><rect class="b" x="1.500" y="39" width="141" height="124.600"/><use href="#h"/><text class="t" x="31" y="16">buymethod</text><text x="22" y="55">Properties</text><use href="#k" y="77"/><text x="41" y="77">ID</text><use href="#w" y="95.400"/><text x="41" y="95.400">nameBuy</text><g transform="translate(0,61.800)"><use href="#s"/><text x="22" y="55">Navigation Properties</text><use href="#v" y="77"/><text x="41" y="77">landplots</text><use href="#v" y="95.400"/><text x="41" y="95.400">projects</text></g></g>
<g id="standard" transform="translate(802,766)"><rect class="o" width="144" height="155.200"/><rect class="b" x="1.500" y="39" width="141" height="106.200"/><use href="#h"/><text class="t" x="31" y="16">standard</text><text x="22" y="55">Properties</text><use href="#k" y="77"/><text x="41" y="77">ID</text><use href="#w" y="95.400"/><text x="41" y="95.400">standardName</text><g transform="translate(0,61.800)"><use href="#s"/><text x="22" y="55">Navigation Properties</text><use href="#v" y="77"/><text x="41" y="77">projects</text></g></g>
<g id="standardlist" transform="translate(802,933)"><rect class="o" width="144" height="228.800"/><rect class="b" x="1.500" y="39" width="141" height="179.800"/><use href="#h"/><text class="t" x="31" y="16">standardlist</text><text x="22" y="55">Properties</text><use href="#k" y="77"/><text x="41" y="77">ID</text><use href="#w" y="95.400"/><text x="41" y="95.400">list</text><use href="#w" y="113.800"/><text x="41" y="113.800">fillin</text><use href="#w" y="132.200"/><text x="41" y="132.200">img</text><use href="#w" y="150.600"/><text x="41" y="150.600">IDpro</text><use href="#w" y="169"/><text x="41" y="169">IDlist</text><g transform="translate(0,135.400)"><use href="#s"/><text x="22" y="55">Navigation Properties</text><use href="#v" y="77"/><text x="41" y="77">project</text></g></g>
<g id="access" transform="translate(1162,970)"><rect class="o" width="144" height="155.200"/><rect class="b" x="1.500" y="39" width="141" height="106.200"/><use href="#h"/><text class="t" x="31" y="16">access</text><text x="22" y="55">Properties</text><use href="#k" y="77"/><text x="41" y="77">accessID</text><use href="#w" y="95.400"/><text x="41" y="95.400">accessName</text><g transform="translate(0,61.800)"><use href="#s"/><text x="22" y="55">Navigation Properties</text><use href="#v" y="77"/><text x="41" y="77">theories</text></g></g>
<g id="activity" transform="translate(994,1078)"><rect class="o" width="144" height="265.600"/><rect class="b" x="1.500" y="39" width="141" height="216.600"/><use href="#h"/><text class="t" x="31" y="16">activity</text><text x="22" y="55">Properties</text><use href="#k" y="77"/><text x="41" y="77">ID</text><use href="#w" y="95.400"/><text x="41" y="95.400">stepNum</text><use href="#w" y="113.800"/><text x="41" y="113.800">stepName</text><use href="#w" y="132.200"/><text x="41" y="132.200">age</text><use href="#w" y="150.600"/><text x="41" y="150.600">time</text><use href="#w" y="169"/><text x="41" y="169">activity1</text><use href="#w" y="187.400"/><text x="41" y="187.400">notice</text><use href="#w" y="205.800"/><text x="41" y="205.800">plan</text><g transform="translate(0,172.200)"><use href="#s"/><text x="22" y="55">Navigation Properties</text><use href="#v" y="77"/><text x="41" y="77">theory</text></g></g>
<g id="theorytype" transform="translate(1162,1186)"><rect class="o" width="144" height="155.200"/><rect class="b" x="1.500" y="39" width="141" height="106.200"/><use href="#h"/><text class="t" x="31" y="16">theorytype</text><text x="22" y="55">Properties</text><use href="#k" y="77"/><text x="41" y="77">theoryID</text><use href="#w" y="95.400"/><text x="41" y="95.400">theoryName</text><g transform="translate(0,61.800)"><use href="#s"/><text x="22" y="55">Navigation Properties</text><use href="#v" y="77"/><text x="41" y="77">theories</text></g></g>
</g>
<g id="connectors">
<path class="c" d="M159 195H209"/>
<path class="c" d="M159 406H209"/>
<path class="c" d="M82 508V535"/>
<path class="c" d="M159 497H190V535H320c0-11 16-11 16 0H341c0-11 16-11 16 0H417c0-20 31-20 31 0H622V557"/>
<path class="c" d="M328 523V581"/><path class="c" d="M349 523V581"/><path class="c" d="M424 509V581"/><path class="c" d="M439 509V581"/>
<path class="c" d="M159 669H293"/><path class="c" d="M159 764H293"/><path class="c" d="M447 669H545"/><path class="c" d="M447 764H545"/>
<path class="c" d="M82 955V989"/><path class="c" d="M183 1251H233"/>
<path class="c" d="M340 947V1001"/><path class="c" d="M367 947V1001"/><path class="c" d="M418 947V1013"/><path class="c" d="M436 947V1013"/>
<path class="c" d="M634 979V1025"/><path class="c" d="M543 1259H593"/><path class="c" d="M951 994H989"/>
<path class="c" d="M556 431H605"/><path class="c" d="M759 241H809"/><path class="c" d="M963 171H1013"/>
<path class="c" d="M951 843H989"/><path class="c" d="M1143 840H1205"/><path class="c" d="M1359 840H1565"/><path class="c" d="M1143 936H1565"/><path class="c" d="M1143 955H1337"/>
<path class="c" d="M970 699V742H1565"/><path class="c" d="M1251 718H1565"/><path class="c" d="M1491 582H1565"/><path class="c" d="M1011 584H1097"/><path class="c" d="M1251 584H1337"/>
<path class="c" d="M1491 1082H1565"/><path class="c" d="M1311 1047H1337"/><path class="c" d="M1143 1155H1337"/><path class="c" d="M1311 1263H1337"/>
<path class="c" d="M1719 1020H1769"/><path class="c" d="M1719 1133H1937"/><path class="c" d="M1719 1162H1810V1205"/><path class="c" d="M2055 1287H2093"/><path class="c" d="M2170 1131V1169"/>
<path class="c" d="M1923 955H2016c0-11 16-11 16 0H2093"/><path class="c" d="M2024 977V922H2093"/>
<path class="c" d="M1642 300V377"/><path class="c" d="M1845 300V413"/><path class="c" d="M1947 307V413"/><path class="c" d="M2002 307V392H2093"/><path class="c" d="M2175 312V377"/>
<path class="c" d="M1719 402H1837c0-11 16-11 16 0H1868c0-11 16-11 16 0H1886c0-11 16-11 16 0H1913c0-11 16-11 16 0H1939c0-11 16-11 16 0H2093"/>
<path class="c" d="M1000 462V334H1634c0-11 16-11 16 0H1837c0-11 16-11 16 0H1939c0-11 16-11 16 0H1994c0-11 16-11 16 0H2132V377"/>
<path class="c" d="M1459 449V340H1634c0-11 16-11 16 0H1837c0-11 16-11 16 0H1939c0-11 16-11 16 0H1994c0-11 16-11 16 0H2124c0-11 16-11 16 0H2162V377"/>
<path class="c" d="M1229 462V346H1451c0-11 16-11 16 0H1634c0-11 16-11 16 0H1837c0-11 16-11 16 0H1939c0-11 16-11 16 0H1994c0-11 16-11 16 0H2124c0-11 16-11 16 0H2147V377"/>
<path class="c" d="M980 462V356H992c0-11 16-11 16 0H1221c0-11 16-11 16 0H1451c0-11 16-11 16 0H1634c0-11 16-11 16 0H1837c0-11 16-11 16 0H1921V413"/>
<path class="c" d="M1242 462V355H1451c0-11 16-11 16 0H1634c0-11 16-11 16 0H1837c0-11 16-11 16 0H1894V413"/>
<path class="c" d="M1480 449V357H1634c0-11 16-11 16 0H1837c0-11 16-11 16 0H1876V413"/>
<path class="s" d="M1009 465L1058 418H1221c0-20 29-20 29 0H1306L1339 451"/>
<text class="a" x="165" y="212">1</text><text class="x" x="203" y="213">*</text>
<text class="a" x="171" y="422">0..1</text><text class="x" x="205" y="423">*</text>
<text class="a" x="98" y="517">0..1</text><text class="x" x="98" y="538">*</text>
<text class="a" x="170" y="515">0..1</text><text class="x" x="633" y="553">*</text>
<text class="x" x="339" y="536">*</text><text class="x" x="360" y="536">*</text><text class="a" x="339" y="576">1</text><text class="a" x="360" y="576">1</text>
<text class="x" x="435" y="522">*</text><text class="x" x="450" y="522">*</text><text class="a" x="435" y="576">1</text><text class="a" x="450" y="576">1</text>
<text class="x" x="165" y="687">*</text><text class="a" x="287" y="686">1</text><text class="x" x="165" y="782">*</text><text class="a" x="287" y="781">1</text>
<text class="a" x="453" y="686">1</text><text class="x" x="539" y="687">*</text><text class="a" x="453" y="781">1</text><text class="x" x="539" y="782">*</text>
<text class="x" x="93" y="968">*</text><text class="a" x="93" y="984">1</text>
<text class="a" x="190" y="1268">1</text><text class="x" x="227" y="1269">*</text>
<text class="a" x="351" y="960">1</text><text class="a" x="378" y="960">1</text><text class="x" x="351" y="997">*</text><text class="x" x="378" y="997">*</text>
<text class="a" x="429" y="960">1</text><text class="a" x="447" y="960">1</text><text class="x" x="429" y="1009">*</text><text class="x" x="447" y="1009">*</text>
<text class="x" x="645" y="992">*</text><text class="a" x="645" y="1020">1</text>
<text class="x" x="549" y="1277">*</text><text class="a" x="587" y="1276">1</text>
<text class="x" x="957" y="1013">*</text><text class="a" x="983" y="1012">1</text>
<text class="x" x="560" y="450">*</text><text class="a" x="600" y="448">1</text>
<text class="a" x="765" y="259">1</text><text class="x" x="803" y="261">*</text>
<text class="x" x="969" y="189">*</text><text class="a" x="1007" y="188">1</text>
<text class="a" x="962" y="860">0..1</text><text class="x" x="983" y="862">*</text>
<text class="x" x="1149" y="858">*</text><text class="a" x="1199" y="857">1</text>
<text class="a" x="1370" y="857">0..1</text><text class="x" x="1559" y="858">*</text>
<text class="a" x="1154" y="953">0..1</text><text class="x" x="1559" y="954">*</text>
<text class="a" x="1154" y="972">0..1</text><text class="x" x="1331" y="973">*</text>
<text class="a" x="986" y="710">0..1</text><text class="x" x="1559" y="760">*</text>
<text class="a" x="1262" y="735">0..1</text><text class="x" x="1559" y="736">*</text>
<text class="a" x="1502" y="599">0..1</text><text class="x" x="1559" y="600">*</text>
<text class="a" x="1018" y="600">1</text><text class="x" x="1091" y="602">*</text>
<text class="x" x="1257" y="601">*</text><text class="a" x="1332" y="600">1</text>
<text class="a" x="1502" y="1099">0..1</text><text class="x" x="1559" y="1100">*</text>
<text class="a" x="1317" y="1064">1</text><text class="x" x="1331" y="1066">*</text>
<text class="x" x="1149" y="1173">*</text><text class="a" x="1331" y="1172">1</text>
<text class="a" x="1317" y="1280">1</text><text class="x" x="1331" y="1282">*</text>
<text class="x" x="1725" y="1038">*</text><text class="a" x="1756" y="1037">0..1</text>
<text class="x" x="1725" y="1151">*</text><text class="a" x="1924" y="1150">0..1</text>
<text class="x" x="1725" y="1180">*</text><text class="a" x="1821" y="1200">1</text>
<text class="a" x="2061" y="1304">1</text><text class="x" x="2087" y="1305">*</text>
<text class="x" x="2181" y="1144">*</text><text class="a" x="2186" y="1164">0..1</text>
<text class="a" x="1934" y="972">0..1</text><text class="x" x="2087" y="973">*</text>
<text class="a" x="2040" y="972">0..1</text><text class="x" x="2087" y="940">*</text>
<text class="a" x="1653" y="313">1</text><text class="x" x="1653" y="373">*</text>
<text class="a" x="1856" y="313">1</text>
<text class="a" x="1959" y="319">1</text>
<text class="a" x="2018" y="319">0..1</text>
<text class="a" x="2191" y="325">0..1</text>
<text class="x" x="1725" y="420">*</text><text class="x" x="1855" y="409">*</text><text class="x" x="1887" y="409">*</text><text class="x" x="1905" y="409">*</text><text class="x" x="1932" y="409">*</text><text class="x" x="1958" y="409">*</text>
<text class="x" x="2087" y="410">*</text><text class="a" x="2078" y="420">0..1</text>
<text class="x" x="2142" y="373">*</text><text class="x" x="2158" y="373">*</text><text class="x" x="2173" y="373">*</text><text class="x" x="2185" y="373">*</text>
<text class="a" x="995" y="456">0..1</text><text class="a" x="1017" y="456">0..1</text><text class="a" x="1017" y="459">1</text>
<text class="a" x="1243" y="456">0..1</text><text class="a" x="1256" y="456">0..1</text>
<text class="x" x="1353" y="445">*</text><text class="a" x="1474" y="444">0..1</text><text class="a" x="1497" y="444">0..1</text>
</g>
</svg>
